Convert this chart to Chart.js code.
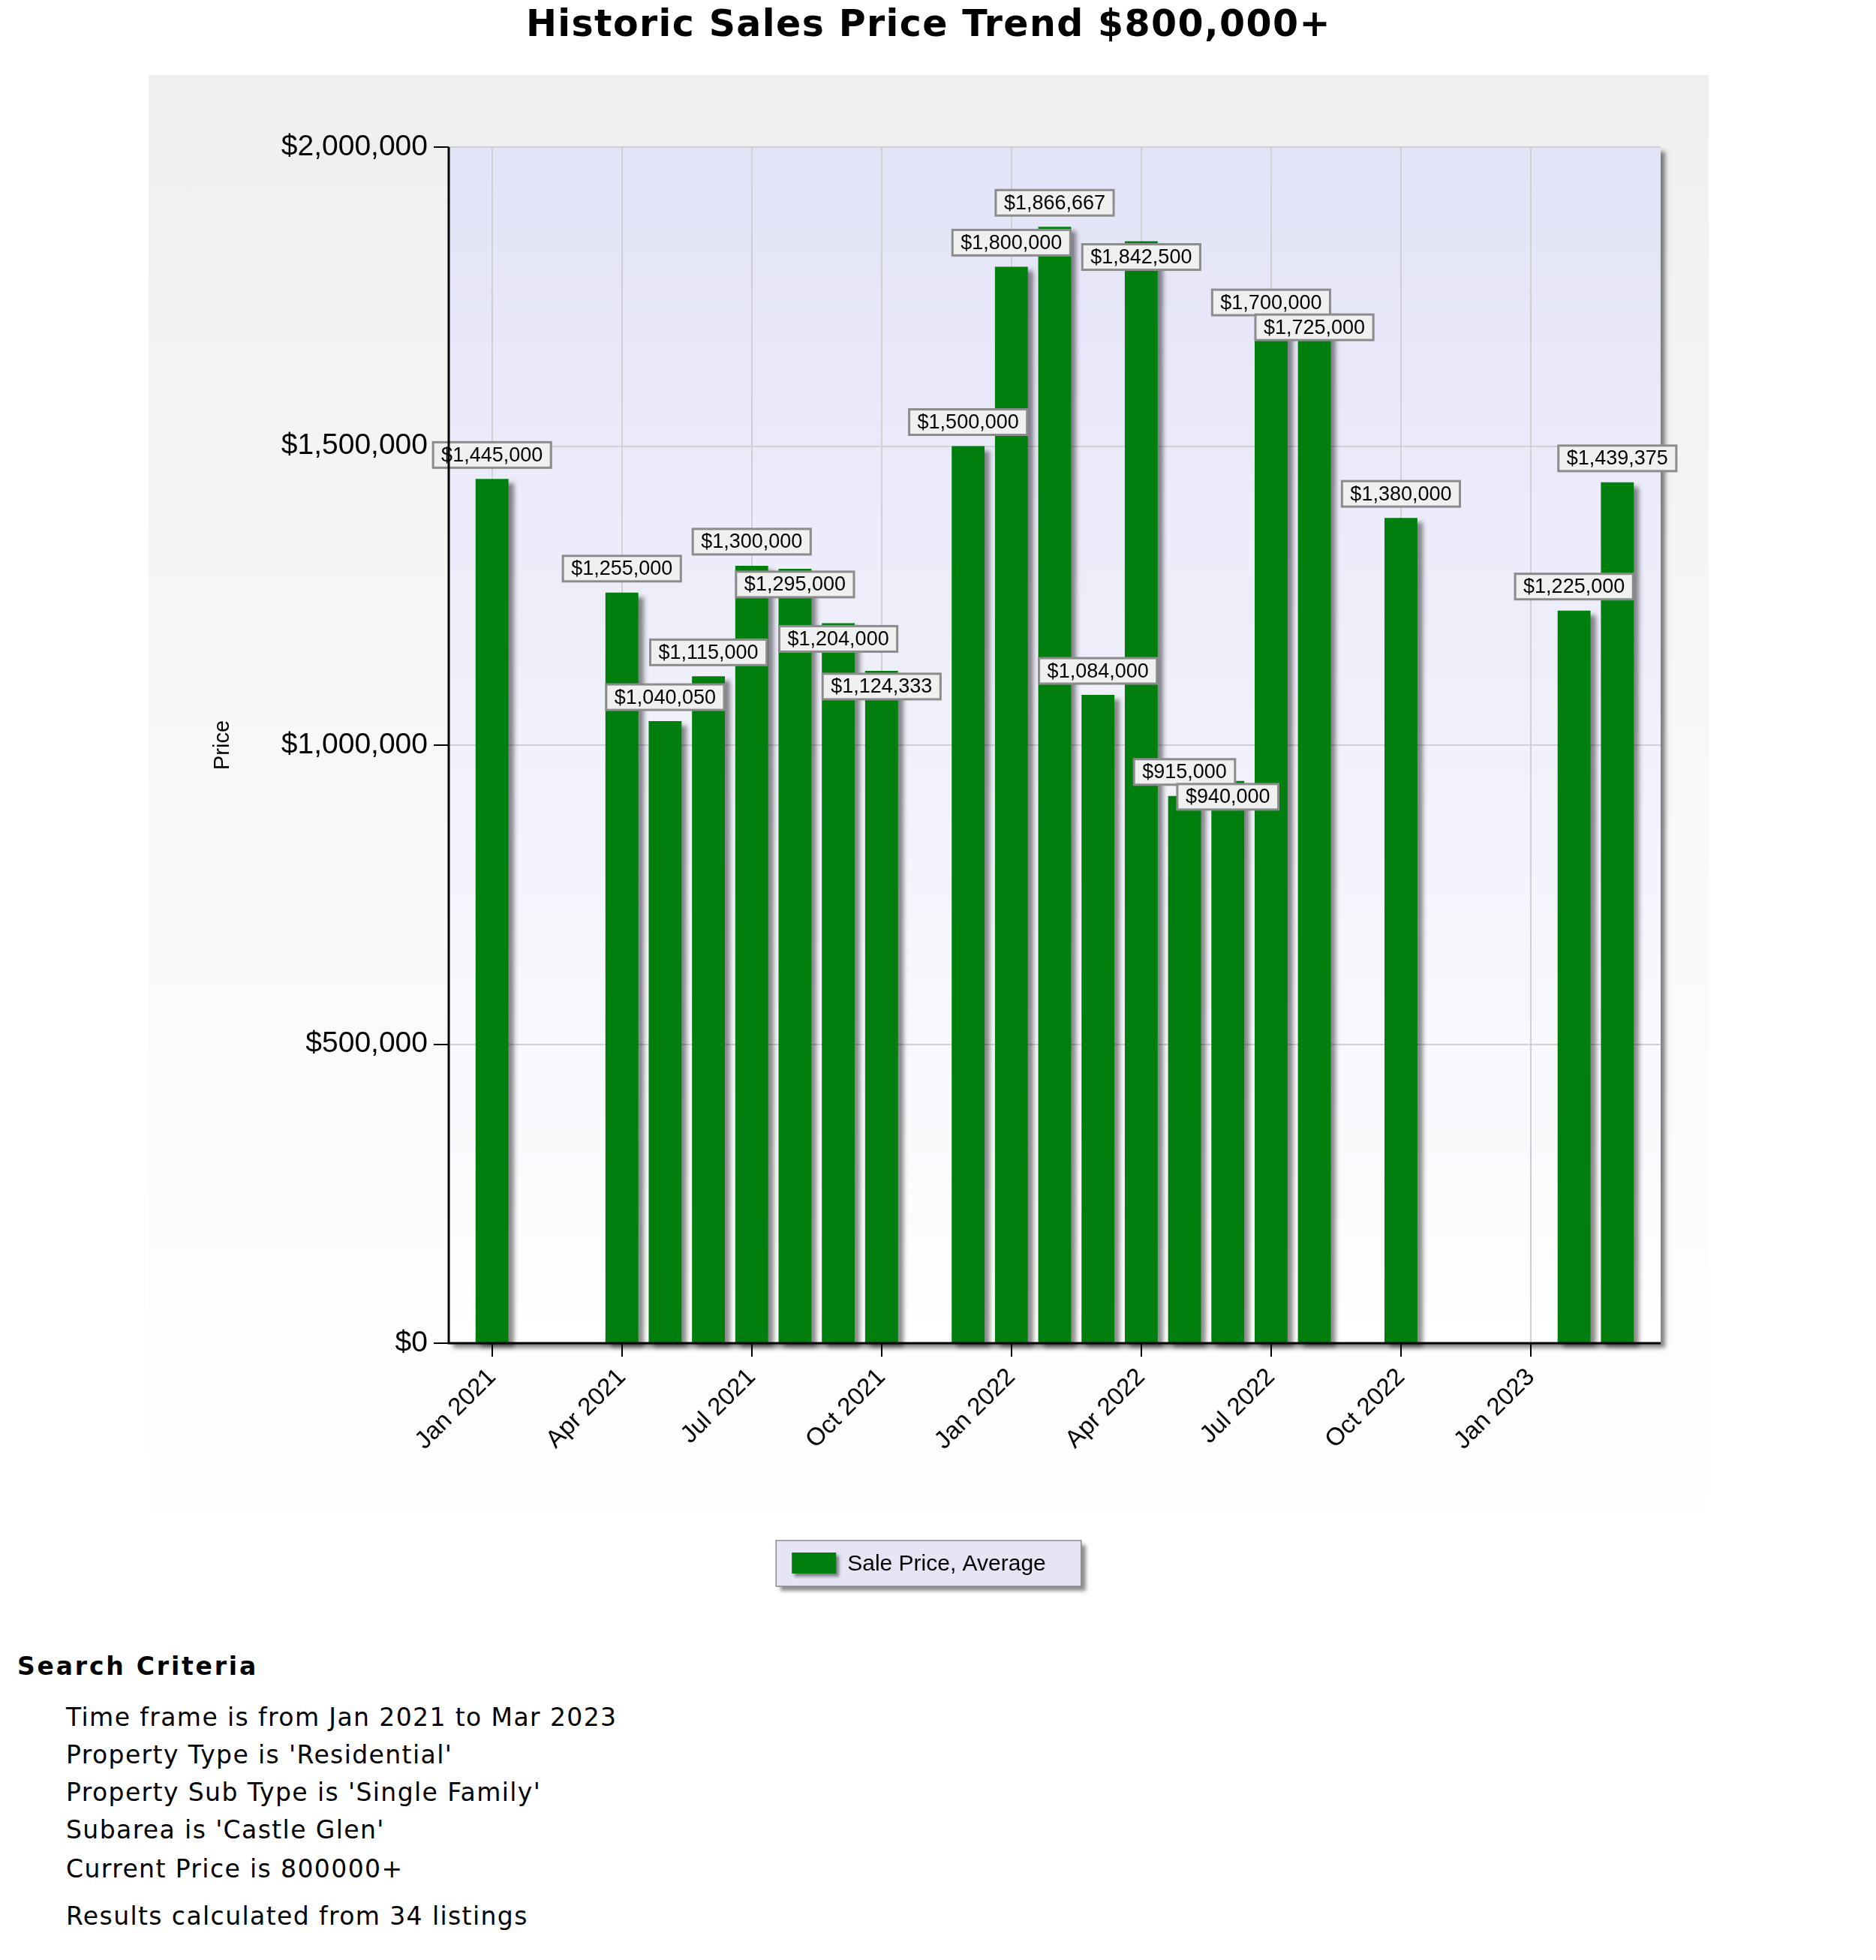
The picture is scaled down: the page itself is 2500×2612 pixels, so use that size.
<!DOCTYPE html>
<html>
<head>
<meta charset="utf-8">
<script src="https://cdn.jsdelivr.net/npm/chart.js@4.4.0/dist/chart.umd.min.js"></script>
<style>
    html, body { margin: 0; padding: 0; background: #fff; }
    body { width: 2500px; height: 2612px; position: relative; overflow: hidden; font-family: 'DejaVu Sans', Verdana, sans-serif; color: #000; }
    #title { position: absolute; left: 198px; width: 2079px; top: 7px; text-align: center; font-weight: bold; font-size: 49px; line-height: 49px; letter-spacing: 1.4px; white-space: nowrap; }
    #panel { position: absolute; left: 198px; top: 100px; width: 2079px; height: 2050px; background: linear-gradient(#efefef, #fafafa 55%, #ffffff 98%); }
    #criteria { position: absolute; left: 0; top: 0; }
    #criteria div { position: absolute; font-size: 33px; line-height: 33px; letter-spacing: 1.4px; white-space: nowrap; }
    #criteria .head { left: 23px; top: 2204px; font-weight: bold; letter-spacing: 2.8px; }
    #criteria .item { left: 88px; }
</style>
</head>
<body>
<div id="title">Historic Sales Price Trend $800,000+</div>
<div id="panel"><canvas id="salesChart" width="2079" height="2050"></canvas></div>
<div id="criteria">
    <div class="head">Search Criteria</div>
    <div class="item" style="top:2272px">Time frame is from Jan 2021 to Mar 2023</div>
    <div class="item" style="top:2322px">Property Type is 'Residential'</div>
    <div class="item" style="top:2372px">Property Sub Type is 'Single Family'</div>
    <div class="item" style="top:2422px">Subarea is 'Castle Glen'</div>
    <div class="item" style="top:2474px">Current Price is 800000+</div>
    <div class="item" style="top:2537px">Results calculated from 34 listings</div>
</div>
<script>
// Months with sales (null = no sale that month)
const months = [
    'Jan 2021', 'Feb 2021', 'Mar 2021', 'Apr 2021', 'May 2021', 'Jun 2021',
    'Jul 2021', 'Aug 2021', 'Sep 2021', 'Oct 2021', 'Nov 2021', 'Dec 2021',
    'Jan 2022', 'Feb 2022', 'Mar 2022', 'Apr 2022', 'May 2022', 'Jun 2022',
    'Jul 2022', 'Aug 2022', 'Sep 2022', 'Oct 2022', 'Nov 2022', 'Dec 2022',
    'Jan 2023', 'Feb 2023', 'Mar 2023'
];
const avgPrices = [
    1445000, null, null, 1255000, 1040050, 1115000,
    1300000, 1295000, 1204000, 1124333, null, 1500000,
    1800000, 1866667, 1084000, 1842500, 915000, 940000,
    1700000, 1725000, null, 1380000, null, null,
    null, 1225000, 1439375
];
// axis runs one month either side of the data
const axisMonths = ['Dec 2020', ...months, 'Apr 2023'];
const tickMonths = ['Jan 2021', 'Apr 2021', 'Jul 2021', 'Oct 2021', 'Jan 2022', 'Apr 2022', 'Jul 2022', 'Oct 2022', 'Jan 2023'];
const priceTicks = [0, 500000, 1000000, 1500000, 2000000];
// labels pushed down onto the bar to avoid overlapping neighbours
const labelsBelow = ['Aug 2021', 'Sep 2021', 'Oct 2021', 'Apr 2022', 'Jun 2022', 'Aug 2022'];

const seriesName = 'Sale Price, Average';
const barColor = '#007f0e';
const arial = '"Liberation Sans", Arial, sans-serif';

const money = (v) => '$' + Number(v).toLocaleString('en-US');

const plotBackground = {
    id: 'plotBackground',
    beforeDraw(chart) {
        const { ctx, chartArea: a } = chart;
        ctx.save();
        ctx.shadowColor = 'rgba(0, 0, 0, 0.5)';
        ctx.shadowOffsetX = 6;
        ctx.shadowOffsetY = 6;
        ctx.shadowBlur = 6;
        const g = ctx.createLinearGradient(0, a.top, 0, a.bottom);
        g.addColorStop(0, '#e3e3f8');
        g.addColorStop(1, '#ffffff');
        ctx.fillStyle = g;
        ctx.fillRect(a.left, a.top, a.right - a.left, a.bottom - a.top);
        ctx.restore();
    }
};

const barShadow = {
    id: 'barShadow',
    beforeDatasetsDraw(chart) {
        const ctx = chart.ctx;
        ctx.save();
        ctx.shadowColor = 'rgba(0, 0, 0, 0.45)';
        ctx.shadowOffsetX = 7;
        ctx.shadowOffsetY = 6;
        ctx.shadowBlur = 6;
    },
    afterDatasetsDraw(chart) {
        chart.ctx.restore();
    }
};

const valueLabels = {
    id: 'valueLabels',
    afterDatasetsDraw(chart) {
        const ctx = chart.ctx;
        const meta = chart.getDatasetMeta(0);
        const values = chart.data.datasets[0].data;
        ctx.save();
        ctx.font = '27px ' + arial;
        ctx.textAlign = 'center';
        ctx.textBaseline = 'middle';
        meta.data.forEach((bar, i) => {
            const v = values[i];
            if (v == null) return;
            const text = money(v);
            const w = ctx.measureText(text).width + 22;
            const h = 34;
            const cy = labelsBelow.includes(chart.data.labels[i]) ? bar.y + 21 : bar.y - 32;
            ctx.fillStyle = '#f0f0f0';
            ctx.fillRect(bar.x - w / 2, cy - h / 2, w, h);
            ctx.lineWidth = 3;
            ctx.strokeStyle = '#8c8c8c';
            ctx.strokeRect(bar.x - w / 2, cy - h / 2, w, h);
            ctx.fillStyle = '#000';
            ctx.fillText(text, bar.x, cy + 1);
        });

        // axis lines sit on top of everything
        const a = chart.chartArea;
        ctx.strokeStyle = '#000';
        ctx.lineWidth = 3;
        ctx.beginPath();
        ctx.moveTo(a.left, a.top);
        ctx.lineTo(a.left, a.bottom);
        ctx.lineTo(a.right, a.bottom);
        ctx.stroke();
        ctx.restore();
    }
};

const boxLegend = {
    id: 'boxLegend',
    afterDraw(chart) {
        const ctx = chart.ctx;
        const ds = chart.data.datasets[0];
        ctx.save();
        ctx.font = '30px ' + arial;
        const tw = ctx.measureText(ds.label).width;
        const w = tw + 142, h = 61;
        const x = chart.width / 2 - w / 2;
        const y = chart.chartArea.bottom + 263;
        ctx.shadowColor = 'rgba(0, 0, 0, 0.45)';
        ctx.shadowOffsetX = 6;
        ctx.shadowOffsetY = 6;
        ctx.shadowBlur = 5;
        ctx.fillStyle = '#e5e5f6';
        ctx.fillRect(x, y, w, h);
        ctx.shadowColor = 'transparent';
        ctx.lineWidth = 1.5;
        ctx.strokeStyle = '#8a8a8a';
        ctx.strokeRect(x, y, w, h);
        ctx.shadowColor = 'rgba(0, 0, 0, 0.45)';
        ctx.shadowOffsetX = 4;
        ctx.shadowOffsetY = 4;
        ctx.shadowBlur = 4;
        ctx.fillStyle = ds.backgroundColor;
        ctx.fillRect(x + 21, y + 16, 59, 28);
        ctx.shadowColor = 'transparent';
        ctx.fillStyle = '#000';
        ctx.textBaseline = 'middle';
        ctx.fillText(ds.label, x + 95, y + h / 2 + 1);
        ctx.restore();
    }
};

const ctx = document.getElementById('salesChart').getContext('2d');
const salesChart = new Chart(ctx, {
    type: 'bar',
    data: {
        labels: axisMonths,
        datasets: [{
            label: seriesName,
            data: [null, ...avgPrices, null],
            backgroundColor: barColor,
            borderWidth: 0,
            categoryPercentage: 1,
            barPercentage: 0.76,
            clip: false
        }]
    },
    options: {
        responsive: false,
        animation: false,
        layout: { padding: { top: 96, right: 64, left: 78, bottom: 0 } },
        plugins: {
            legend: { display: false },
            tooltip: { enabled: false }
        },
        scales: {
            x: {
                type: 'category',
                offset: false,
                border: { display: false },
                grid: {
                    offset: false,
                    color: '#d0d0d6',
                    lineWidth: 2,
                    tickColor: '#000',
                    tickLength: 18,
                    tickWidth: 2
                },
                ticks: {
                    autoSkip: false,
                    minRotation: 45,
                    maxRotation: 45,
                    padding: 8,
                    color: '#000',
                    font: { family: arial, size: 33 }
                },
                afterBuildTicks: (axis) => {
                    axis.ticks = axis.ticks.filter(t => tickMonths.includes(axisMonths[t.value]));
                },
                afterFit: (axis) => { axis.height = 360; }
            },
            y: {
                min: 0,
                max: 2000000,
                border: { display: false },
                grid: {
                    color: '#d0d0d6',
                    lineWidth: 2,
                    tickColor: '#000',
                    tickLength: 20,
                    tickWidth: 2
                },
                ticks: {
                    padding: 8,
                    color: '#000',
                    font: { family: arial, size: 39 },
                    callback: (v) => money(v)
                },
                afterBuildTicks: (axis) => {
                    axis.ticks = priceTicks.map(v => ({ value: v }));
                },
                title: {
                    display: true,
                    text: 'Price',
                    color: '#000',
                    padding: 4,
                    font: { family: arial, size: 29 }
                },
                afterFit: (axis) => { axis.width = 322; }
            }
        }
    },
    plugins: [plotBackground, barShadow, valueLabels, boxLegend]
});
</script>
</body>
</html>
